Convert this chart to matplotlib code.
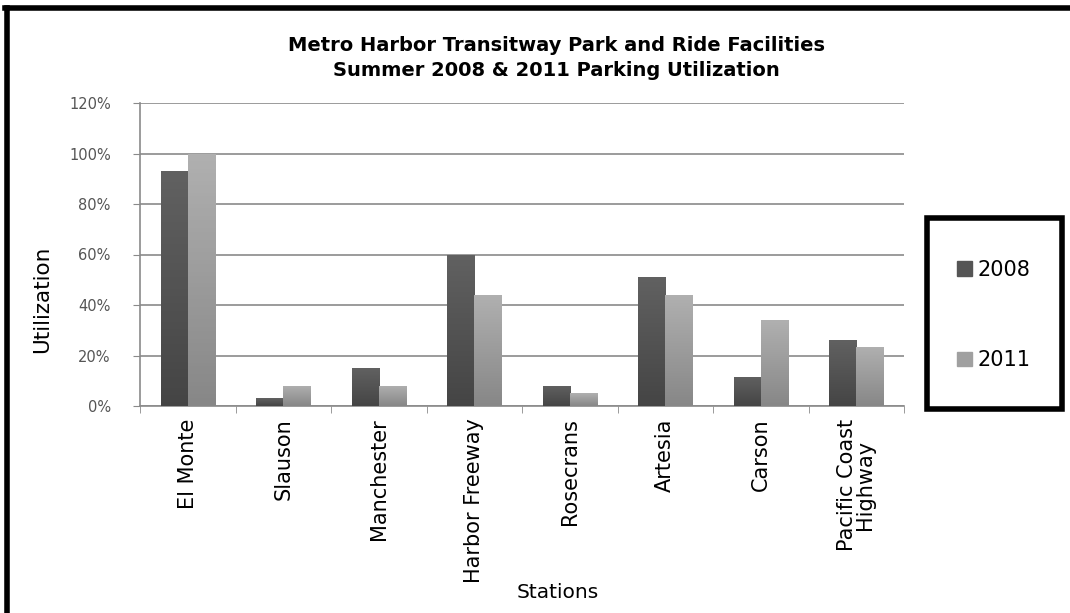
import matplotlib.pyplot as plt
import numpy as np
from matplotlib.lines import Line2D
from matplotlib.patches import Rectangle, Patch

stations = ["El Monte", "Slauson", "Manchester", "Harbor Freeway", "Rosecrans",
            "Artesia", "Carson", "Pacific Coast\nHighway"]
util_2008 = [93, 3, 15, 60, 8, 51, 11.5, 26]
util_2011 = [100, 8, 8, 44, 5, 44, 34, 23.5]
yticks = [0, 20, 40, 60, 80, 100, 120]

plt.rcParams['font.family'] = ['DejaVu Sans']

fig = plt.figure(figsize=(10.7, 6.13), dpi=100)
ax = fig.add_axes([140 / 1070, 1 - 406 / 613, 764 / 1070, 303 / 613])

x = np.arange(len(stations))
w = 0.285
bars08 = ax.bar(x - w / 2, util_2008, w, color="#555555", zorder=2)
bars11 = ax.bar(x + w / 2, util_2011, w, color="#a0a0a0", zorder=2)


def shade(bars, top, bottom):
    # vertical gradient, darker at the bottom, clipped to each bar
    grad = np.linspace(0, 1, 64).reshape(-1, 1)
    c0 = np.array(bottom)
    c1 = np.array(top)
    img = c0 + (c1 - c0) * grad[..., None]
    img = img.reshape(64, 1, 3)
    for b in bars:
        x0, y0 = b.get_x(), b.get_y()
        im = ax.imshow(img, extent=[x0, x0 + b.get_width(), y0, y0 + b.get_height()],
                       origin="lower", aspect="auto", zorder=3)
        im.set_clip_path(b)


shade(bars08, (0.38, 0.38, 0.38), (0.27, 0.27, 0.27))
shade(bars11, (0.69, 0.69, 0.69), (0.53, 0.53, 0.53))

ax.set_xlim(-0.5, len(stations) - 0.5)
ax.set_ylim(0, 120)
ax.set_yticks(yticks)
ax.set_yticklabels([f"{v}%" for v in yticks], color="#555555", fontsize=10.5)
ax.yaxis.grid(True, color="#8a8a8a", linewidth=1.2, zorder=0)
ax.set_axisbelow(True)
ax.tick_params(axis="y", length=5, color="#8a8a8a", pad=16)

ax.set_xticks(x)
ax.set_xticklabels(stations, rotation=90, fontsize=15, va="top", ha="center",
                   linespacing=0.9)
ax.set_xticks(np.arange(len(stations) + 1) - 0.5, minor=True)
ax.tick_params(axis="x", which="major", length=0, pad=9)
ax.tick_params(axis="x", which="minor", length=5, color="#8a8a8a")

for s in ["top", "right"]:
    ax.spines[s].set_visible(False)
for s in ["left", "bottom"]:
    ax.spines[s].set_color("#8a8a8a")
    ax.spines[s].set_linewidth(1.2)

fig.text(556 / 1070, 1 - 58 / 613,
         "Metro Harbor Transitway Park and Ride Facilities\nSummer 2008 & 2011 Parking Utilization",
         ha="center", va="center", fontsize=14, fontweight="bold", linespacing=1.45)
fig.text(42 / 1070, 1 - 299 / 613, "Utilization", rotation=90, ha="center",
         va="center", fontsize=15.5)
fig.text(558 / 1070, 1 - 592 / 613, "Stations", ha="center", va="center",
         fontsize=14.5)

# legend box
fig.patches.append(Rectangle((927 / 1070, 1 - 409 / 613), 135 / 1070, 191 / 613,
                             transform=fig.transFigure, fill=False,
                             edgecolor="black", linewidth=4))
handles = [Patch(color="#555555"), Patch(color="#a0a0a0")]
fig.legend(handles, ["2008", "2011"], loc="center",
           bbox_to_anchor=(994 / 1070, 1 - 315 / 613), frameon=False,
           fontsize=15, labelspacing=3.4, handlelength=0.7, handleheight=0.7,
           handletextpad=0.3)

# outer border on top and left
fig.lines.append(Line2D([7 / 1070, 7 / 1070], [0, 1 - 8 / 613],
                        transform=fig.transFigure, color="black", linewidth=4))
fig.lines.append(Line2D([5 / 1070, 1], [1 - 8 / 613, 1 - 8 / 613],
                        transform=fig.transFigure, color="black", linewidth=4))

fig.savefig("out.png", dpi=100)
